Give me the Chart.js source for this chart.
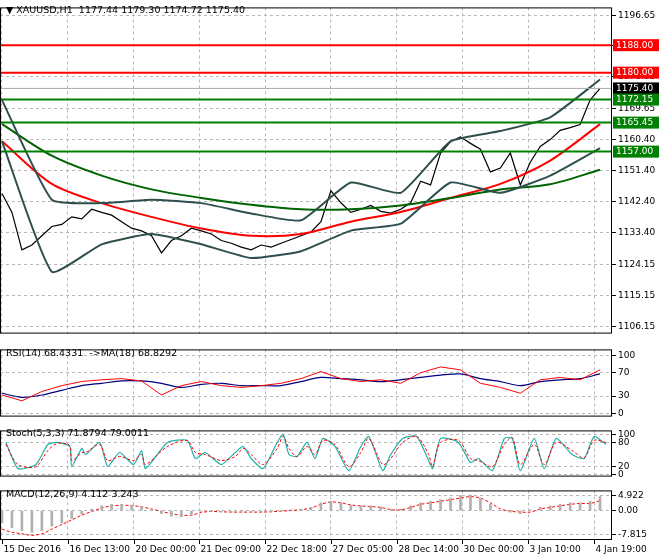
<!DOCTYPE html>
<html><head><meta charset="utf-8">
<script src="https://cdn.jsdelivr.net/npm/chart.js@4"></script>
<style>
body{margin:0;background:#fff;width:660px;height:560px;position:relative;overflow:hidden;font-family:"DejaVu Sans",sans-serif}
canvas{position:absolute;left:0}
.t{position:absolute;left:6px;font-size:9.5px;color:#000;white-space:pre;z-index:5}
</style></head><body>
<canvas id="c1" style="top:0"></canvas>
<canvas id="c2" style="top:342px"></canvas>
<canvas id="c3" style="top:423px"></canvas>
<canvas id="c4" style="top:483px"></canvas>
<div class="t" style="top:4px">▼ XAUUSD,H1  1177.44 1179.30 1174.72 1175.40</div>
<div class="t" style="top:347px">RSI(14) 68.4331  ->MA(18) 68.8292</div>
<div class="t" style="top:427px">Stoch(5,3,3) 71.8794 79.0011</div>
<div class="t" style="top:488px">MACD(12,26,9) 4.112 3.243</div>
<script>
// ---- data ----
const priceX = Array.from({length:61},(_, i)=>i*5);
const close = [1144.8,1139.3,1128.4,1129.8,1132.5,1135.2,1135.8,1138.0,1137.4,1140.2,1139.3,1138.5,1136.6,1134.7,1133.9,1132.5,1127.5,1131.1,1132.5,1134.7,1133.9,1133.0,1131.1,1130.3,1129.2,1128.4,1129.8,1129.2,1130.3,1131.4,1132.5,1133.6,1136.6,1145.6,1142.1,1139.3,1140.2,1141.3,1139.6,1139.1,1140.2,1142.1,1148.4,1147.3,1156.6,1159.9,1161.3,1159.4,1157.7,1151.1,1152.2,1156.6,1147.3,1153.9,1158.5,1160.5,1163.2,1164.0,1164.9,1172.0,1175.4];
const maX = [0,25,50,75,100,125,150,175,200,225,250,275,300];
const maRed = [1160,1147.6,1142,1138,1134.6,1132.5,1133,1136.6,1139.4,1143.5,1147.6,1154.4,1165];
const maGreen = [1165,1155.8,1150,1146,1143.5,1141.5,1140.2,1140.2,1141.3,1143.5,1146,1147.5,1151.7];
const bbUpper = [1172,1143,1142,1143,1142,1139,1137,1148,1145,1160,1163,1167,1178];
const bbLower = [1160,1122,1130,1133,1130,1126,1128,1134,1136,1148,1145,1150,1158];
const hLines = [{v:1188.00,c:'#ff0000'},{v:1180.00,c:'#ff0000'},{v:1172.15,c:'#008000'},{v:1165.45,c:'#008000'},{v:1157.00,c:'#008000'}];
const priceTicks = [1196.65,1188.00,1178.85,1169.65,1160.40,1151.40,1142.40,1133.40,1124.15,1115.15,1106.15];
const priceBoxes = [{v:1188.00,bg:'#ff0000',fg:'#fff'},{v:1180.00,bg:'#ff0000',fg:'#fff'},{v:1175.40,bg:'#000',fg:'#fff'},{v:1172.15,bg:'#008000',fg:'#fff'},{v:1165.45,bg:'#008000',fg:'#fff'},{v:1157.00,bg:'#008000',fg:'#fff'}];
const rsiX = Array.from({length:31},(_, i)=>i*10);
const rsi = [32,22,38,48,55,58,60,56,32,48,55,48,45,48,52,60,72,60,55,58,52,70,80,75,52,45,35,58,62,58,75];
const rsiMa = [35,28,32,40,48,52,56,56,52,45,50,52,48,48,48,55,62,60,58,55,58,62,66,68,60,55,48,55,58,60,68];
const stochX = [2,8,17,23,28,34,35,40,42,49,53,59,66,70,72,83,93,97,102,110,117,121,125,131,138,141,144,148,153,157,161,167,174,180,184,191,195,201,208,214,216,220,229,235,239,246,252,256,260,267,272,278,286,292,297,303];
const stochMain = [80,15,25,75,80,70,20,65,50,80,20,55,25,60,15,80,85,40,55,25,55,70,40,15,80,100,50,45,80,40,90,70,10,70,95,10,50,90,95,35,15,90,80,30,40,10,90,90,10,90,15,90,50,40,95,75];
const stochSig = [75,25,20,60,78,72,35,55,55,75,35,45,35,50,25,70,85,55,50,35,45,65,50,25,65,95,65,45,70,50,85,75,20,55,90,25,40,80,95,50,20,80,85,40,35,20,75,92,25,75,25,80,60,42,85,80];
const macdX = Array.from({length:61},(_, i)=>i*5);
const macdHist = [-4,-5.5,-6.5,-7,-6.5,-5,-4,-2.5,-1,0.5,1.5,2,2,1.8,1.2,0.3,-1,-1.8,-2,-1.5,-0.2,-0.3,-0.4,-0.5,-0.5,-0.5,-0.5,-0.4,-0.2,0.2,0.5,1,2.5,3,2.5,1.8,1.5,1.5,1.2,0.5,0.5,1.5,2.5,3,3.5,4,4.8,5,4,2,0,-0.5,-1,0.2,1,1.5,2,2.5,2.5,3,4.5];
const macdSig = [-6,-7,-7.5,-8,-7.5,-6,-4.5,-3,-1.5,-0.3,0.8,1.5,1.7,1.6,1.2,0.5,-0.3,-1,-1.5,-1.5,-0.6,-0.3,-0.4,-0.5,-0.5,-0.5,-0.5,-0.4,-0.2,0,0.3,0.8,2,2.8,2.5,1.8,1.5,1.3,1,0.3,0.2,1,2,2.5,3,3.5,4,4.5,4,2.5,0.5,-0.2,-0.5,-0.5,0.5,1,1.5,2,2.3,2.3,3.2];
const timeTickX = [0,33,66,99,132,165,198,231,264,297];
const timeLabels = ['15 Dec 2016','16 Dec 13:00','20 Dec 00:00','21 Dec 09:00','22 Dec 18:00','27 Dec 05:00','28 Dec 14:00','30 Dec 00:00','3 Jan 10:00','4 Jan 19:00'];

// ---- helpers ----
const FONT = {family:'DejaVu Sans',size:9};
const xy = (xs,ys)=>xs.map((x,i)=>({x,y:ys[i]}));
function xScale(){
  return {type:'linear',min:-1,max:306,offset:false,
    afterBuildTicks:s=>{s.ticks=timeTickX.map(v=>({value:v}));},
    afterFit:s=>{s.height=0;},
    grid:{color:'#b8b8b8',drawTicks:false,offset:false},
    border:{display:false,dash:[3,3]},
    ticks:{display:false}};
}
function yScale(min,max,ticks,fmt){
  return {type:'linear',position:'right',min,max,
    afterFit:s=>{s.width=48;},
    afterBuildTicks:s=>{s.ticks=ticks.map(v=>({value:v}));},
    grid:{color:'#b8b8b8',tickLength:4,tickColor:'#000'},
    border:{display:false,dash:[3,3]},
    ticks:{font:FONT,color:'#000',padding:2,callback:fmt}};
}
const frame = {id:'frame',afterDraw(c){const a=c.chartArea,x=c.ctx;x.save();x.strokeStyle='#000';x.lineWidth=1;x.strokeRect(a.left+0.5,a.top+0.5,a.width-1,a.height-1);x.restore();}};
const line = (data,color,w,dash)=>({type:'line',data,borderColor:color,borderWidth:w,pointRadius:0,tension:0.3,borderDash:dash||[],fill:false});
const base = (scales,bottom)=>({responsive:false,animation:false,layout:{padding:{bottom:bottom||0,top:1}},
  plugins:{legend:{display:false},tooltip:{enabled:false}},scales});
function setup(id,h){const c=document.getElementById(id);c.width=660;c.height=h;c.style.width='660px';c.style.height=h+'px';return c;}

// ---- main ----
const boxes = {id:'boxes',afterDraw(c){const x=c.ctx,a=c.chartArea,y=c.scales.y;x.save();x.font='9px DejaVu Sans';x.textBaseline='middle';
  priceBoxes.forEach(b=>{const py=y.getPixelForValue(b.v);x.fillStyle=b.bg;x.fillRect(a.right+1,py-6,46,12);x.fillStyle=b.fg;x.fillText(b.v.toFixed(2),a.right+4,py);});x.restore();}};
new Chart(setup('c1',341),{type:'line',data:{datasets:[
  ...hLines.map(h=>line([{x:-1,y:h.v},{x:306,y:h.v}],h.c,2)),
  line([{x:-1,y:1175.4},{x:306,y:1175.4}],'#aaaaaa',1),
  Object.assign(line(xy(maX,bbUpper),'#2f4f4f',2),{tension:0.15}),
  Object.assign(line(xy(maX,bbLower),'#2f4f4f',2),{tension:0.15}),
  line(xy(maX,maGreen),'#006400',2),
  line(xy(maX,maRed),'#ff0000',2),
  Object.assign(line(xy(priceX,close),'#000',1.2),{tension:0})
]},options:base({x:xScale(),y:yScale(1104,1199,priceTicks,v=>v.toFixed(2))}),plugins:[frame,boxes]});

// ---- RSI ----
new Chart(setup('c2',82),{type:'line',data:{datasets:[
  Object.assign(line(xy(rsiX,rsi),'#ff0000',1),{tension:0}),
  line(xy(rsiX,rsiMa),'#000080',1.2)
]},options:base({x:xScale(),y:yScale(-5,110,[0,30,70,100],v=>String(v))}),plugins:[frame]});

// ---- Stoch ----
new Chart(setup('c3',61),{type:'line',data:{datasets:[
  line(xy(stochX,stochSig),'#ff0000',1,[3,2]),
  Object.assign(line(xy(stochX,stochMain),'#20b2aa',1.2),{tension:0.2})
]},options:base({x:xScale(),y:yScale(-5,110,[0,20,80,100],v=>String(v))}),plugins:[frame]});

// ---- MACD ----
const timeAxis = {id:'timeAxis',afterDraw(c){const x=c.ctx,a=c.chartArea,s=c.scales.x;x.save();x.font='9px DejaVu Sans';x.fillStyle='#000';x.strokeStyle='#000';x.textBaseline='top';
  timeTickX.forEach((v,i)=>{const px=Math.round(s.getPixelForValue(v))+0.5;x.beginPath();x.moveTo(px,a.bottom);x.lineTo(px,a.bottom+4);x.stroke();x.fillText(timeLabels[i],px+1,a.bottom+5);});x.restore();}};
new Chart(setup('c4',77),{type:'bar',data:{datasets:[
  {type:'bar',data:xy(macdX,macdHist),backgroundColor:'#b0b0b0',barThickness:2},
  line(xy(macdX,macdSig),'#ff0000',1,[3,2])
]},options:base({x:xScale(),y:yScale(-9.5,6.5,[-7.815,0,4.922],v=>v===0?'0.00':v.toFixed(3))},20),plugins:[frame,timeAxis]});
</script></body></html>
